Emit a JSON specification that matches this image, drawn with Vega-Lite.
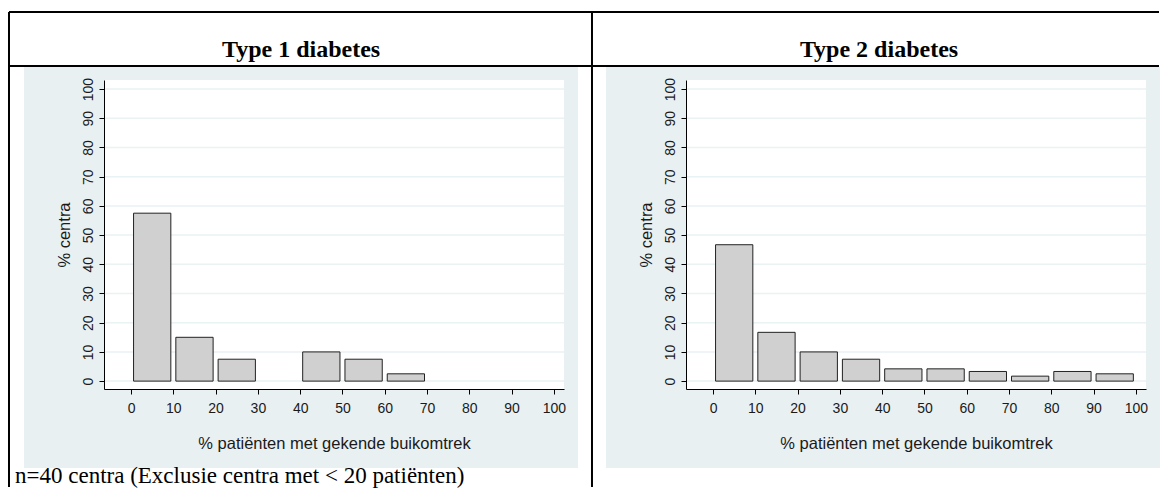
{
  "$schema": "https://vega.github.io/schema/vega-lite/v6.json",
  "padding": {"left": 7, "top": 11, "right": 0, "bottom": 0},
  "background": "white",
  "spacing": 122,
  "bounds": "flush",
  "datasets": {
    "t1": [
      {"lo": 0, "hi": 10, "pct": 57.5},
      {"lo": 10, "hi": 20, "pct": 15},
      {"lo": 20, "hi": 30, "pct": 7.5},
      {"lo": 40, "hi": 50, "pct": 10},
      {"lo": 50, "hi": 60, "pct": 7.5},
      {"lo": 60, "hi": 70, "pct": 2.5}
    ],
    "t2": [
      {"lo": 0, "hi": 10, "pct": 46.7},
      {"lo": 10, "hi": 20, "pct": 16.7},
      {"lo": 20, "hi": 30, "pct": 10},
      {"lo": 30, "hi": 40, "pct": 7.5},
      {"lo": 40, "hi": 50, "pct": 4.2},
      {"lo": 50, "hi": 60, "pct": 4.2},
      {"lo": 60, "hi": 70, "pct": 3.3},
      {"lo": 70, "hi": 80, "pct": 1.7},
      {"lo": 80, "hi": 90, "pct": 3.3},
      {"lo": 90, "hi": 100, "pct": 2.5}
    ],
    "grid": [{"g": 0}, {"g": 10}, {"g": 20}, {"g": 30}, {"g": 40}, {"g": 50}, {"g": 60}, {"g": 70}, {"g": 80}, {"g": 90}, {"g": 100}],
    "one": [{}]
  },
  "config": {
    "view": {"stroke": null},
    "axis": {
      "grid": false, "labelOverlap": false,
      "domainColor": "#000", "tickColor": "#000", "domainWidth": 1, "tickWidth": 1, "tickSize": 5,
      "labelFont": "Liberation Sans", "labelFontSize": 14, "labelColor": "#1a1a1a",
      "titleFont": "Liberation Sans", "titleFontSize": 16.5, "titleFontWeight": "normal", "titleColor": "#1a1a1a"
    }
  },
  "hconcat": [
    {
      "width": 460, "height": 309,
      "layer": [
        {"data": {"name": "one"}, "mark": {"type": "rect", "color": "#e9f0f2"},
         "encoding": {
           "x": {"datum": -25.32, "type": "quantitative", "scale": {"domain": [-6.4, 102.4], "nice": false, "zero": false},
                 "axis": {"zindex": 1, "title": "% patiënten met gekende buikomtrek", "values": [0, 10, 20, 30, 40, 50, 60, 70, 80, 90, 100], "tickCount": 11, "labelOverlap": false, "labelPadding": 7, "titlePadding": 20, "labelFlush": false}},
           "x2": {"datum": 105.71},
           "y": {"datum": 107.55, "type": "quantitative", "scale": {"domain": [-2.7, 103.1], "nice": false, "zero": false},
                 "axis": {"zindex": 1, "title": "% centra", "values": [0, 10, 20, 30, 40, 50, 60, 70, 80, 90, 100], "tickCount": 11, "labelOverlap": false, "labelAngle": -90, "labelAlign": "center", "labelBaseline": "bottom", "labelPadding": 4, "titlePadding": 9, "labelFlush": false}},
           "y2": {"datum": -29.75}}},
        {"data": {"name": "one"}, "mark": {"type": "rect", "color": "white"},
         "encoding": {"x": {"datum": -6.4}, "x2": {"datum": 102.4}, "y": {"datum": 103.1}, "y2": {"datum": -2.7}}},
        {"data": {"name": "grid"}, "mark": {"type": "rule", "color": "#eaf2f3", "strokeWidth": 1.5},
         "encoding": {"y": {"field": "g", "type": "quantitative"}}},
        {"data": {"name": "t1"},
         "mark": {"type": "rect", "fill": "#d0d0d0", "stroke": "#222", "strokeWidth": 1, "xOffset": 2.5, "x2Offset": -2.5},
         "encoding": {
           "x": {"field": "lo", "type": "quantitative"},
           "x2": {"field": "hi"},
           "y": {"field": "pct", "type": "quantitative"},
           "y2": {"datum": 0}
         }},
        {"data": {"name": "one"}, "mark": {"type": "rule", "color": "black", "strokeWidth": 2},
         "encoding": {"x": {"datum": -28.87}, "x2": {"datum": 243.13}, "y": {"datum": 126.38}}},
        {"data": {"name": "one"}, "mark": {"type": "rule", "color": "black", "strokeWidth": 2},
         "encoding": {"x": {"datum": -28.87}, "x2": {"datum": 243.13}, "y": {"datum": 107.89}}},
        {"data": {"name": "one"}, "mark": {"type": "rule", "color": "black", "strokeWidth": 2},
         "encoding": {"x": {"datum": -28.87}, "y": {"datum": 126.38}, "y2": {"datum": -36.25}}},
        {"data": {"name": "one"}, "mark": {"type": "rule", "color": "black", "strokeWidth": 2},
         "encoding": {"x": {"datum": 109.02}, "y": {"datum": 126.38}, "y2": {"datum": -36.25}}},
        {"data": {"name": "one"}, "mark": {"type": "text", "font": "Liberation Serif", "fontWeight": "bold", "fontSize": 24, "align": "center", "baseline": "alphabetic", "color": "black", "text": "Type 1 diabetes"},
         "encoding": {"x": {"datum": 40.2}, "y": {"datum": 110.98}}},
        {"data": {"name": "one"}, "mark": {"type": "text", "font": "Liberation Serif", "fontSize": 23, "align": "left", "baseline": "alphabetic", "color": "black", "text": "n=40 centra  (Exclusie centra met < 20 patiënten)"},
         "encoding": {"x": {"datum": -27.45}, "y": {"datum": -35.0}}}
      ]
    },
    {
      "width": 460, "height": 309,
      "layer": [
        {"data": {"name": "one"}, "mark": {"type": "rect", "color": "#e9f0f2"},
         "encoding": {
           "x": {"datum": -25.32, "type": "quantitative", "scale": {"domain": [-6.4, 102.4], "nice": false, "zero": false},
                 "axis": {"zindex": 1, "title": "% patiënten met gekende buikomtrek", "values": [0, 10, 20, 30, 40, 50, 60, 70, 80, 90, 100], "tickCount": 11, "labelOverlap": false, "labelPadding": 7, "titlePadding": 20, "labelFlush": false}},
           "x2": {"datum": 105.95},
           "y": {"datum": 107.55, "type": "quantitative", "scale": {"domain": [-2.7, 103.1], "nice": false, "zero": false},
                 "axis": {"zindex": 1, "title": "% centra", "values": [0, 10, 20, 30, 40, 50, 60, 70, 80, 90, 100], "tickCount": 11, "labelOverlap": false, "labelAngle": -90, "labelAlign": "center", "labelBaseline": "bottom", "labelPadding": 4, "titlePadding": 9, "labelFlush": false}},
           "y2": {"datum": -29.75}}},
        {"data": {"name": "one"}, "mark": {"type": "rect", "color": "white"},
         "encoding": {"x": {"datum": -6.4}, "x2": {"datum": 102.4}, "y": {"datum": 103.1}, "y2": {"datum": -2.7}}},
        {"data": {"name": "grid"}, "mark": {"type": "rule", "color": "#eaf2f3", "strokeWidth": 1.5},
         "encoding": {"y": {"field": "g", "type": "quantitative"}}},
        {"data": {"name": "t2"},
         "mark": {"type": "rect", "fill": "#d0d0d0", "stroke": "#222", "strokeWidth": 1, "xOffset": 2.5, "x2Offset": -2.5},
         "encoding": {
           "x": {"field": "lo", "type": "quantitative"},
           "x2": {"field": "hi"},
           "y": {"field": "pct", "type": "quantitative"},
           "y2": {"datum": 0}
         }},
        {"data": {"name": "one"}, "mark": {"type": "text", "font": "Liberation Serif", "fontWeight": "bold", "fontSize": 24, "align": "center", "baseline": "alphabetic", "color": "black", "text": "Type 2 diabetes"},
         "encoding": {"x": {"datum": 39.25}, "y": {"datum": 110.98}}}
      ]
    }
  ]
}
